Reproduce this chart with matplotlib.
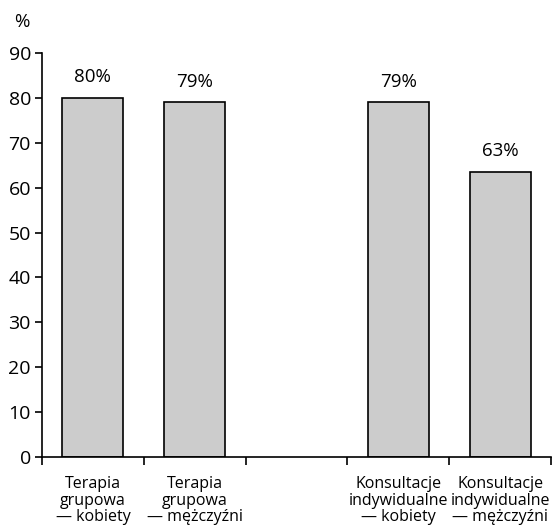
import numpy as np
import matplotlib.pyplot as plt

plt.rcParams['font.family'] = ['Open Sans', 'DejaVu Sans']

categories = ["Terapia\ngrupowa\n\u2014 kobiety", "Terapia\ngrupowa\n\u2014 m\u0119\u017cczy\u017ani", "",
              "Konsultacje\nindywidualne\n\u2014 kobiety", "Konsultacje\nindywidualne\n\u2014 m\u0119\u017cczy\u017ani"]
values = [80, 79, None, 79, 63.5]
labels = ["80%", "79%", "", "79%", "63%"]

fig = plt.figure(figsize=(5.59, 5.25), dpi=100)
ax = fig.add_axes([42/559, 1-457/525, 509/559, 404/525])

x = np.arange(len(categories))
for xi, v, lab in zip(x, values, labels):
    if v is None:
        continue
    ax.bar(xi, v, width=0.6, color='#cccccc', edgecolor='black', linewidth=1.2)
    ax.text(xi, v + 2.6, lab, ha='center', va='bottom', fontsize=13.5)

ax.set_xlim(-0.5, len(categories) - 0.5)
ax.set_ylim(0, 90)
ax.set_yticks(np.arange(0, 91, 10))
ax.set_xticks(x)
ax.set_xticklabels(categories, fontsize=11.5, linespacing=1.02)
ax.set_xticks(np.arange(-0.5, len(categories)), minor=True)
ax.tick_params(axis='x', which='major', length=0, pad=14)
ax.tick_params(axis='x', which='minor', length=6, width=1.2, direction='out')
ax.tick_params(axis='y', length=5, width=1.2, labelsize=14, pad=3)
ax.spines['top'].set_visible(False)
ax.spines['right'].set_visible(False)
for s in ['left', 'bottom']:
    ax.spines[s].set_linewidth(1.2)

fig.text(14/559, 1-22/525, "%", fontsize=13.5, va='center')

fig.savefig('out.png', dpi=100)
